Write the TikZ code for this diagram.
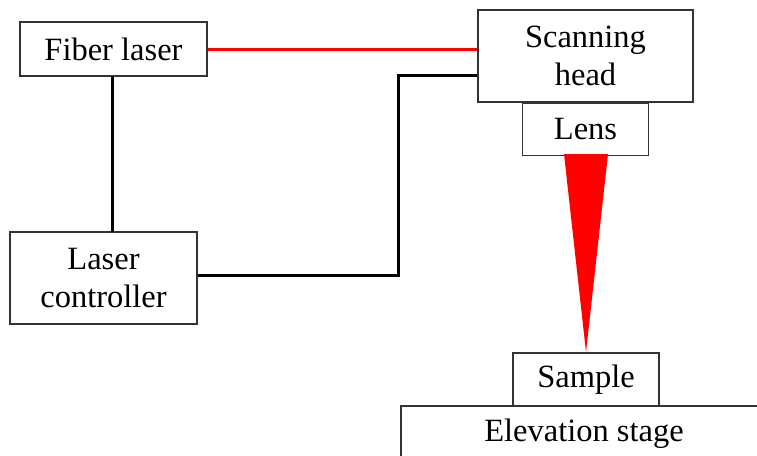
\documentclass[tikz,border=0pt]{standalone}
\usepackage{fontspec}
\setmainfont{Liberation Serif}
\begin{document}
\begin{tikzpicture}[x=1pt,y=-1pt,
  txt/.style={font=\fontsize{32.5}{38}\selectfont, text=black},
  box/.style={txt, draw=black!80, line width=1.5pt, rectangle, inner sep=0pt, align=center},
  wire/.style={line width=3pt, black},
  fiberline/.style={line width=3pt, red}]
\useasboundingbox (0,0) rectangle (757,455);
\node[box, minimum width=187pt, minimum height=54pt] (fiber) at (113.5,49) {Fiber laser};
\node[box, minimum width=215pt, minimum height=92pt] (scan) at (585.5,56) {Scanning\\head};
\node[box, minimum width=126pt, minimum height=52pt, anchor=north] (lens) at (scan.south) {Lens};
\node[box, minimum width=187pt, minimum height=92pt] (ctrl) at (103.5,278) {Laser\\controller};
\node[box, minimum width=146pt, minimum height=53pt] (sample) at (586,379.5) {Sample};
\node[txt, inner sep=0pt, anchor=base] (stage) at (584,441) {Elevation stage};
\draw[black!80, line width=1.5pt] (401,456) -- (401,406) -- (758,406);
\fill[red] (564,154) -- (608,154) -- (586,352) -- cycle;
\draw[fiberline] (fiber.east) -- (fiber.east -| scan.west);
\coordinate (b1) at (398,275);
\coordinate (b2) at (398,75);
\draw[wire] (112,76) -- (112,232);
\draw[wire] (ctrl.east |- b1) -- (b1) -- (b2) -- (b2 -| scan.west);
\end{tikzpicture}
\end{document}
